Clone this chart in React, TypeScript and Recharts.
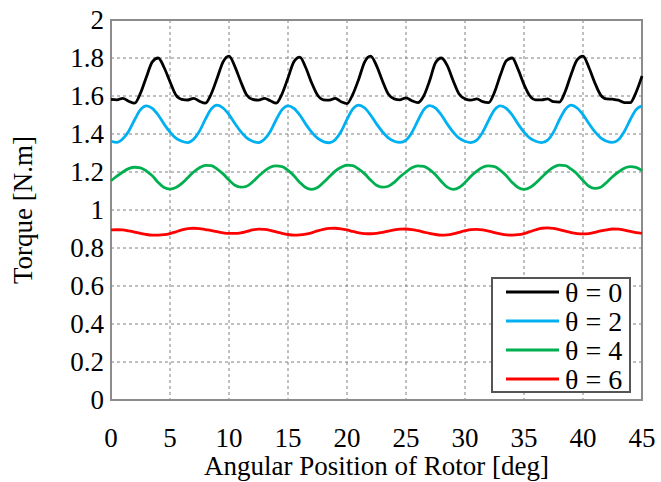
import React from 'react';
import { LineChart, Line, XAxis, YAxis, CartesianGrid, Legend, ReferenceArea } from 'recharts';

const angles = [
  0, 0.5, 1, 1.5, 2, 2.5, 3, 3.5, 4, 4.5, 5, 5.5, 6, 6.5, 7, 7.5, 8, 8.5, 9, 9.5,
  10, 10.5, 11, 11.5, 12, 12.5, 13, 13.5, 14, 14.5, 15, 15.5, 16, 16.5, 17, 17.5, 18, 18.5, 19, 19.5,
  20, 20.5, 21, 21.5, 22, 22.5, 23, 23.5, 24, 24.5, 25, 25.5, 26, 26.5, 27, 27.5, 28, 28.5, 29, 29.5,
  30, 30.5, 31, 31.5, 32, 32.5, 33, 33.5, 34, 34.5, 35, 35.5, 36, 36.5, 37, 37.5, 38, 38.5, 39, 39.5,
  40, 40.5, 41, 41.5, 42, 42.5, 43, 43.5, 44, 44.5, 45,
];

const theta0 = [
  1.582, 1.58, 1.588, 1.572, 1.562, 1.615, 1.70, 1.78, 1.80, 1.75,
  1.675, 1.605, 1.582, 1.579, 1.588, 1.572, 1.562, 1.612, 1.695, 1.78,
  1.81, 1.755, 1.675, 1.605, 1.582, 1.578, 1.588, 1.575, 1.562, 1.612,
  1.695, 1.78, 1.805, 1.75, 1.67, 1.605, 1.58, 1.578, 1.588, 1.57,
  1.56, 1.61, 1.69, 1.78, 1.81, 1.76, 1.68, 1.61, 1.585, 1.58,
  1.59, 1.575, 1.565, 1.60, 1.68, 1.775, 1.80, 1.76, 1.68, 1.61,
  1.585, 1.578, 1.585, 1.57, 1.565, 1.62, 1.71, 1.785, 1.80, 1.74,
  1.66, 1.60, 1.58, 1.58, 1.585, 1.57, 1.568, 1.625, 1.715, 1.79,
  1.81, 1.75, 1.67, 1.605, 1.585, 1.583, 1.578, 1.565, 1.565, 1.62,
  1.705,
];

const theta2 = [
  1.362, 1.356, 1.375, 1.415, 1.475, 1.528, 1.548, 1.535, 1.50, 1.452,
  1.41, 1.378, 1.362, 1.355, 1.372, 1.415, 1.478, 1.532, 1.552, 1.537,
  1.502, 1.455, 1.412, 1.38, 1.362, 1.355, 1.372, 1.413, 1.475, 1.528,
  1.548, 1.535, 1.50, 1.452, 1.41, 1.378, 1.36, 1.354, 1.37, 1.413,
  1.477, 1.532, 1.552, 1.537, 1.50, 1.453, 1.412, 1.38, 1.362, 1.356,
  1.368, 1.408, 1.47, 1.527, 1.549, 1.536, 1.50, 1.452, 1.41, 1.378,
  1.362, 1.355, 1.368, 1.41, 1.472, 1.527, 1.548, 1.535, 1.50, 1.452,
  1.41, 1.378, 1.362, 1.355, 1.368, 1.41, 1.475, 1.53, 1.552, 1.537,
  1.502, 1.455, 1.412, 1.38, 1.362, 1.356, 1.37, 1.413, 1.475, 1.528,
  1.548,
];

const theta4 = [
  1.154, 1.178, 1.20, 1.218, 1.225, 1.222, 1.205, 1.18, 1.145, 1.118,
  1.11, 1.118, 1.14, 1.17, 1.20, 1.222, 1.235, 1.233, 1.215, 1.19,
  1.158, 1.13, 1.12, 1.125, 1.148, 1.178, 1.205, 1.225, 1.232, 1.228,
  1.208, 1.18, 1.145, 1.118, 1.109, 1.118, 1.145, 1.175, 1.205, 1.225,
  1.236, 1.233, 1.215, 1.19, 1.158, 1.13, 1.12, 1.125, 1.145, 1.175,
  1.20, 1.222, 1.232, 1.23, 1.212, 1.185, 1.15, 1.12, 1.109, 1.118,
  1.145, 1.178, 1.205, 1.225, 1.232, 1.228, 1.208, 1.18, 1.145, 1.118,
  1.109, 1.118, 1.142, 1.172, 1.202, 1.225, 1.236, 1.234, 1.215, 1.19,
  1.155, 1.125, 1.114, 1.12, 1.145, 1.175, 1.20, 1.22, 1.228, 1.224,
  1.207,
];

const theta6 = [
  0.895, 0.896, 0.895, 0.89, 0.884, 0.877, 0.871, 0.868, 0.868, 0.87,
  0.876, 0.885, 0.895, 0.902, 0.904, 0.902, 0.897, 0.892, 0.886, 0.88,
  0.877, 0.877, 0.88, 0.887, 0.895, 0.899, 0.898, 0.893, 0.885, 0.877,
  0.871, 0.868, 0.869, 0.873, 0.88, 0.89, 0.898, 0.903, 0.904, 0.901,
  0.895, 0.887, 0.88, 0.876, 0.875, 0.877, 0.882, 0.889, 0.895, 0.899,
  0.9, 0.897, 0.891, 0.884, 0.877, 0.871, 0.868, 0.869, 0.874, 0.882,
  0.891, 0.897, 0.898, 0.895, 0.889, 0.881, 0.874, 0.869, 0.868, 0.87,
  0.876, 0.886, 0.896, 0.904, 0.906, 0.903, 0.897, 0.889, 0.881, 0.876,
  0.874, 0.876, 0.882, 0.89, 0.896, 0.9, 0.899, 0.894, 0.887, 0.881,
  0.877,
];

const xTicks = [0, 5, 10, 15, 20, 25, 30, 35, 40, 45];
const yTicks = [0, 0.2, 0.4, 0.6, 0.8, 1, 1.2, 1.4, 1.6, 1.8, 2];
const yTickLabels = ['0', '0.2', '0.4', '0.6', '0.8', '1', '1.2', '1.4', '1.6', '1.8', '2'];

const seriesKeys = ['t0', 't2', 't4', 't6'];
const seriesNames = ['θ = 0', 'θ = 2', 'θ = 4', 'θ = 6'];
const seriesColors = ['#000000', '#00B0F0', '#00B050', '#FF0000'];

const data = angles.map((a, i) => ({
  angle: a,
  t0: theta0[i],
  t2: theta2[i],
  t4: theta4[i],
  t6: theta6[i],
}));

const FONT = "'Liberation Serif', 'DejaVu Serif', serif";
const FS = 27;

const XTick = (props: any) => {
  const { x, y, payload } = props;
  return (
    <text x={x} y={y} textAnchor="middle" dominantBaseline="central" style={{ fontFamily: FONT, fontSize: FS }} fill="#000">
      {String(payload.value)}
    </text>
  );
};

const YTick = (props: any) => {
  const { x, y, payload } = props;
  const idx = yTicks.indexOf(payload.value);
  return (
    <text x={x} y={y} textAnchor="end" dominantBaseline="central" style={{ fontFamily: FONT, fontSize: FS }} fill="#000">
      {idx >= 0 ? yTickLabels[idx] : String(payload.value)}
    </text>
  );
};

const renderLegend = () => (
  <svg width={140} height={116} style={{ display: 'block' }}>
    <rect x={1} y={1} width={138} height={114} fill="#fff" stroke="#555" strokeWidth={2} />
    {seriesNames.map((n, i) => {
      const cy = 15 + i * 29;
      return (
        <g key={n}>
          <line x1={15} x2={68} y1={cy} y2={cy} stroke={seriesColors[i]} strokeWidth={3} />
          <text x={74} y={cy} dominantBaseline="central" style={{ fontFamily: FONT, fontSize: 28 }} fill="#000">
            {n}
          </text>
        </g>
      );
    })}
  </svg>
);

export default function App() {
  return (
    <div style={{ position: 'absolute', left: 0, top: 0, width: 661, height: 482, background: '#fff' }}>
      <LineChart
        width={661}
        height={482}
        data={data}
        margin={{ top: 20, right: 19, left: 5, bottom: 32 }}
      >
        <CartesianGrid stroke="#808080" strokeDasharray="3 3" strokeWidth={1} />
        <XAxis
          dataKey="angle"
          type="number"
          domain={[0, 45]}
          ticks={xTicks}
          interval={0}
          height={50}
          tickLine={false}
          axisLine={false}
          tickSize={0}
          tickMargin={38}
          tick={<XTick />}
          label={{
            content: (props: any) => {
              const vb = props.viewBox;
              return (
                <text
                  x={vb.x + vb.width / 2}
                  y={466}
                  textAnchor="middle"
                  dominantBaseline="central"
                  style={{ fontFamily: FONT, fontSize: FS }}
                  fill="#000"
                >
                  Angular Position of Rotor [deg]
                </text>
              );
            },
          }}
        />
        <YAxis
          type="number"
          domain={[0, 2]}
          ticks={yTicks}
          interval={0}
          width={106}
          tickLine={false}
          axisLine={false}
          tickSize={0}
          tickMargin={7}
          tick={<YTick />}
          label={{
            content: (props: any) => {
              const vb = props.viewBox;
              const cx = 23;
              const cy = vb.y + vb.height / 2;
              return (
                <text
                  x={cx}
                  y={cy}
                  textAnchor="middle"
                  dominantBaseline="central"
                  transform={`rotate(-90 ${cx} ${cy})`}
                  style={{ fontFamily: FONT, fontSize: FS }}
                  fill="#000"
                >
                  Torque [N.m]
                </text>
              );
            },
          }}
        />
        <ReferenceArea x1={0} x2={45} y1={0} y2={2} fill="none" stroke="#8c8c8c" strokeWidth={2} ifOverflow="visible" />
        {seriesKeys.map((k, i) => (
          <Line
            key={k}
            dataKey={k}
            name={seriesNames[i]}
            type="monotone"
            stroke={seriesColors[i]}
            strokeWidth={2.8}
            dot={false}
            activeDot={false}
            isAnimationActive={false}
          />
        ))}
        <Legend
          layout="horizontal"
          verticalAlign="middle"
          align="center"
          content={renderLegend}
          wrapperStyle={{ position: 'absolute', left: 491, top: 277, width: 140, height: 116 }}
        />
      </LineChart>
    </div>
  );
}
